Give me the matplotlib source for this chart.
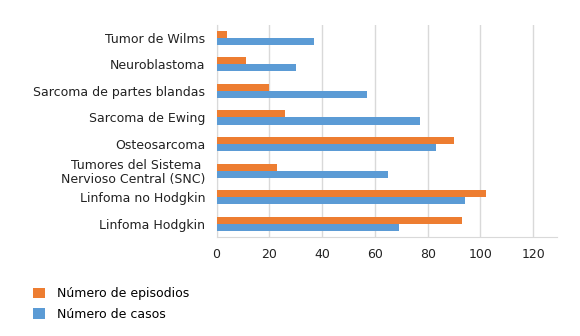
import matplotlib
matplotlib.use("Agg")
import matplotlib.pyplot as plt
import numpy as np

categories = [
    "Tumor de Wilms",
    "Neuroblastoma",
    "Sarcoma de partes blandas",
    "Sarcoma de Ewing",
    "Osteosarcoma",
    "Tumores del Sistema \nNervioso Central (SNC)",
    "Linfoma no Hodgkin",
    "Linfoma Hodgkin",
]
episodios = [4, 11, 20, 26, 90, 23, 102, 93]
casos = [37, 30, 57, 77, 83, 65, 94, 69]
xticks = [0, 20, 40, 60, 80, 100, 120]

orange = "#ED7D31"
blue = "#5B9BD5"
fs = 9.0

plt.rcParams["font.family"] = ["DejaVu Sans"]
fig = plt.figure(figsize=(5.8, 3.36), dpi=100)
ax = fig.add_axes([216.5 / 580, 1 - 237 / 336, (557 - 216.5) / 580, (237 - 24.5) / 336])

y = np.arange(len(categories))
h = 0.265
ax.barh(y - h / 2, episodios, height=h, color=orange, label="Número de episodios", zorder=3)
ax.barh(y + h / 2, casos, height=h, color=blue, label="Número de casos", zorder=3)

ax.set_ylim(len(categories) - 0.5, -0.5)
ax.set_xlim(0, 129)
ax.set_xticks(xticks)
ax.set_yticks(y)
ax.set_yticklabels(categories, fontsize=fs, color="#222222", linespacing=1.05)
ax.tick_params(axis="x", labelsize=fs, colors="#222222", length=0, pad=8)
ax.tick_params(axis="y", length=0, pad=8)
ax.grid(axis="x", color="#D9D9D9", linewidth=1, zorder=0)
for s in ["top", "right"]:
    ax.spines[s].set_visible(False)
ax.spines["left"].set_color("#D9D9D9")
ax.spines["bottom"].set_color("#D9D9D9")

fig.legend(
    loc="upper left",
    bbox_to_anchor=(22 / 580, 1 - 276 / 336),
    frameon=False,
    fontsize=fs,
    handlelength=0.9,
    handleheight=0.9,
    handletextpad=1.0,
    labelspacing=0.6,
)

fig.savefig("out.png", dpi=100)
